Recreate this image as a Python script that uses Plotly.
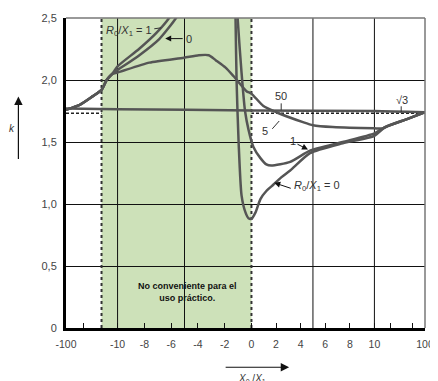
import numpy as np
import plotly.graph_objects as go

# ---- axis mapping (X0/X1 -> horizontal position on the chart's non-linear scale)
X_ANCHORS = [-100, -10, 0, 10, 100]
U_ANCHORS = [0, 52, 187, 311, 362]

def xpos(vals):
    return np.interp(np.asarray(vals, dtype=float), X_ANCHORS, U_ANCHORS)

# ---- tick labels
x_tick_values = [-100, -10, -8, -6, -4, -2, 0, 2, 4, 6, 8, 10, 100]
x_tick_labels = ["-100", "-10", "-8", "-6", "-4", "-2", "0", "2", "4", "6", "8", "10", "100"]
x_minor_ticks = [-70, 38, 77]
x_grid_values = [-10, -5, 5, 10]
y_tick_values = [0, 0.5, 1.0, 1.5, 2.0, 2.5]
y_tick_labels = ["0", "0,5", "1,0", "1,5", "2,0", "2,5"]

green_start = -38
green_end = 0
sqrt3 = np.sqrt(3)

# ---- shared rising start of curves R0/X1 = 0, 1, 5
shared_x = [-100, -76, -53, -38, -29, -19]
shared_k = [1.76, 1.80, 1.87, 1.92, 2.00, 2.05]

# R0/X1 = 1
c1_left_x = shared_x + [-10, -8.4, -7.1, -6.15, -5.6]
c1_left_k = shared_k + [2.11, 2.25, 2.38, 2.50, 2.60]
c1_right_x = [-1.1, -1.04, -0.74, -0.48, -0.22, 0.16, 0.73, 1.21, 1.61, 3.15, 4.76, 7.42, 10, 29, 68, 100]
c1_right_k = [2.70, 2.51, 2.06, 1.75, 1.60, 1.46, 1.37, 1.32, 1.31, 1.34, 1.43, 1.50, 1.57, 1.62, 1.685, 1.74]

# R0/X1 = 0
c0_left_x = shared_x + [-10, -8.37, -6.89, -5.63, -5.1]
c0_left_k = shared_k + [2.08, 2.20, 2.33, 2.50, 2.60]
c0_right_x = [-1.22, -1.19, -1.11, -0.96, -0.74, -0.44, -0.22, 0.0, 0.32, 0.73, 1.21, 1.77, 2.42, 3.15, 4.76, 7.42, 10, 29, 68, 100]
c0_right_k = [2.70, 2.51, 1.99, 1.50, 1.07, 0.93, 0.885, 0.88, 0.93, 1.04, 1.105, 1.155, 1.215, 1.27, 1.41, 1.49, 1.55, 1.62, 1.685, 1.74]

# R0/X1 = 5
c5_x = shared_x + [-10, -7.63, -5.04, -3.93, -3.19, -2.67, -1.93, -1.33, -0.37, 0.0, 0.97, 2.02, 4.19, 5.0, 6.61, 10, 24, 35, 68, 100]
c5_k = shared_k + [2.06, 2.14, 2.18, 2.20, 2.20, 2.16, 2.10, 2.03, 1.91, 1.89, 1.79, 1.74, 1.66, 1.635, 1.62, 1.61, 1.61, 1.63, 1.685, 1.74]

# R0/X1 = 50
c50_x = [-100, -10, 0, 10, 100]
c50_k = [1.77, 1.765, 1.755, 1.75, 1.74]

CURVE_COLOR = "#555555"
fig = go.Figure()

def add_curve(xs, ks):
    fig.add_trace(go.Scatter(x=xpos(xs), y=ks, mode="lines",
                             line=dict(color=CURVE_COLOR, width=2.5, shape="spline", smoothing=0.6),
                             showlegend=False, hoverinfo="skip"))

add_curve(c50_x, c50_k)
add_curve(c5_x, c5_k)
add_curve(c1_left_x, c1_left_k)
add_curve(c1_right_x, c1_right_k)
add_curve(c0_left_x, c0_left_k)
add_curve(c0_right_x, c0_right_k)

shapes = []
# green "not practical" zone
shapes.append(dict(type="rect", xref="x", yref="y", x0=float(xpos(green_start)), x1=float(xpos(green_end)),
                   y0=0, y1=2.5, fillcolor="#cde1b9", line=dict(width=0), layer="below"))
for gx in x_grid_values:
    shapes.append(dict(type="line", xref="x", yref="y", x0=float(xpos(gx)), x1=float(xpos(gx)), y0=0, y1=2.5,
                       line=dict(color="#111", width=1), layer="below"))
for gx in [green_start, green_end]:
    shapes.append(dict(type="line", xref="x", yref="y", x0=float(xpos(gx)), x1=float(xpos(gx)), y0=0, y1=2.5,
                       line=dict(color="#333", width=2, dash="dot"), layer="between"))
shapes.append(dict(type="line", xref="paper", yref="y", x0=0, x1=1, y0=sqrt3, y1=sqrt3,
                   line=dict(color="#222", width=1.5, dash="3px,2px"), layer="between"))
# top and right frame
shapes.append(dict(type="line", xref="paper", yref="paper", x0=0, x1=1, y0=1, y1=1, line=dict(color="#777", width=1.5)))
shapes.append(dict(type="line", xref="paper", yref="paper", x0=1, x1=1, y0=0, y1=1, line=dict(color="#777", width=1.5)))

# page is offset by the 8px body margin; plot area sits at page x 66..428, y 12..328
OFF = 8
W, H = 438 - OFF, 381 - OFF
PL, PR, PT, PB = 66, 428, 12, 328
L, T = PL - OFF, PT - OFF
R, B = (W + OFF) - PR, (H + OFF) - PB
PW, PH = PR - PL, PB - PT

def px(xp):
    return (xp - PL) / PW

def py(yp):
    return (PB - yp) / PH

# leader lines
shapes.append(dict(type="line", xref="paper", yref="paper", x0=px(155), y0=py(23), x1=px(162), y1=py(22), line=dict(color="#333", width=1)))
shapes.append(dict(type="line", xref="paper", yref="paper", x0=px(283), y0=py(99), x1=px(283), y1=py(106), line=dict(color="#333", width=1)))
shapes.append(dict(type="line", xref="paper", yref="paper", x0=px(274), y0=py(125), x1=px(281), y1=py(117), line=dict(color="#333", width=1)))
shapes.append(dict(type="line", xref="paper", yref="paper", x0=px(404), y0=py(102), x1=px(404), y1=py(108), line=dict(color="#333", width=1)))

TXT = dict(family="Liberation Sans, Arial, sans-serif", size=11, color="#333")
ann = []
def text(x, y, s, size=11, xanchor="center", yanchor="middle", **kw):
    f = dict(TXT); f["size"] = size
    f.update(kw.pop("font", {}))
    ann.append(dict(xref="paper", yref="paper", x=px(x), y=py(y), text=s, showarrow=False, font=f,
                    xanchor=xanchor, yanchor=yanchor, **kw))

def arrow(x_head, y_head, x_tail, y_tail, width=1, size=1.2, head=2):
    ann.append(dict(xref="paper", yref="paper", x=px(x_head), y=py(y_head), ax=x_tail - x_head, ay=y_tail - y_head,
                    text="", showarrow=True, arrowhead=head, arrowsize=size, arrowwidth=width, arrowcolor="#111"))

text(130, 25, "<i>R</i><sub>0</sub>/<i>X</i><sub>1</sub> = 1")
text(190, 33, "0")
arrow(166, 33, 185, 33)
text(283, 92, "50")
text(267, 127, "5")
text(295, 137, "1")
arrow(310, 146, 298, 140)
text(319, 183, "<i>R</i><sub>0</sub>/<i>X</i><sub>1</sub> = 0")
arrow(276, 180, 294, 186)
text(405, 96, "√3")
text(189, 291, "<b>No conveniente para el<br>uso práctico.</b>", size=9, font=dict(color="#111"))
text(12, 125, "<i>k</i>", size=10)
arrow(18, 92, 18, 156, width=1.2, size=1.4)
arrow(291, 368, 226, 368, width=1.2, size=1.4)
text(254, 372, "<i>X</i><sub>0</sub> /<i>X</i><sub>1</sub>", size=10, yanchor="top")

all_tick_x = list(xpos(x_tick_values)) + list(xpos(x_minor_ticks))
all_tick_text = x_tick_labels + [" "] * len(x_minor_ticks)

fig.update_layout(
    width=W, height=H, margin=dict(l=L, r=R, t=T, b=B),
    paper_bgcolor="white", plot_bgcolor="white",
    shapes=shapes, annotations=ann, showlegend=False,
    xaxis=dict(range=[0, U_ANCHORS[-1]], tickvals=all_tick_x, ticktext=all_tick_text,
               ticks="inside", ticklen=5, tickcolor="#111", tickwidth=1,
               showgrid=False, zeroline=False, showline=True, linecolor="#000", linewidth=3,
               tickfont=dict(family="Liberation Sans, Arial, sans-serif", size=10.5, color="#444"),
               ticklabelstandoff=4, ticklabeloverflow="allow", fixedrange=True),
    yaxis=dict(range=[0, 2.5], tickvals=y_tick_values, ticktext=y_tick_labels,
               ticks="", showgrid=True, gridcolor="#111", gridwidth=1, zeroline=False,
               showline=True, linecolor="#000", linewidth=3,
               tickfont=dict(family="Liberation Sans, Arial, sans-serif", size=11, color="#444"),
               ticklabelstandoff=4, ticklabeloverflow="allow", fixedrange=True),
)

fig.write_html("out.html")
